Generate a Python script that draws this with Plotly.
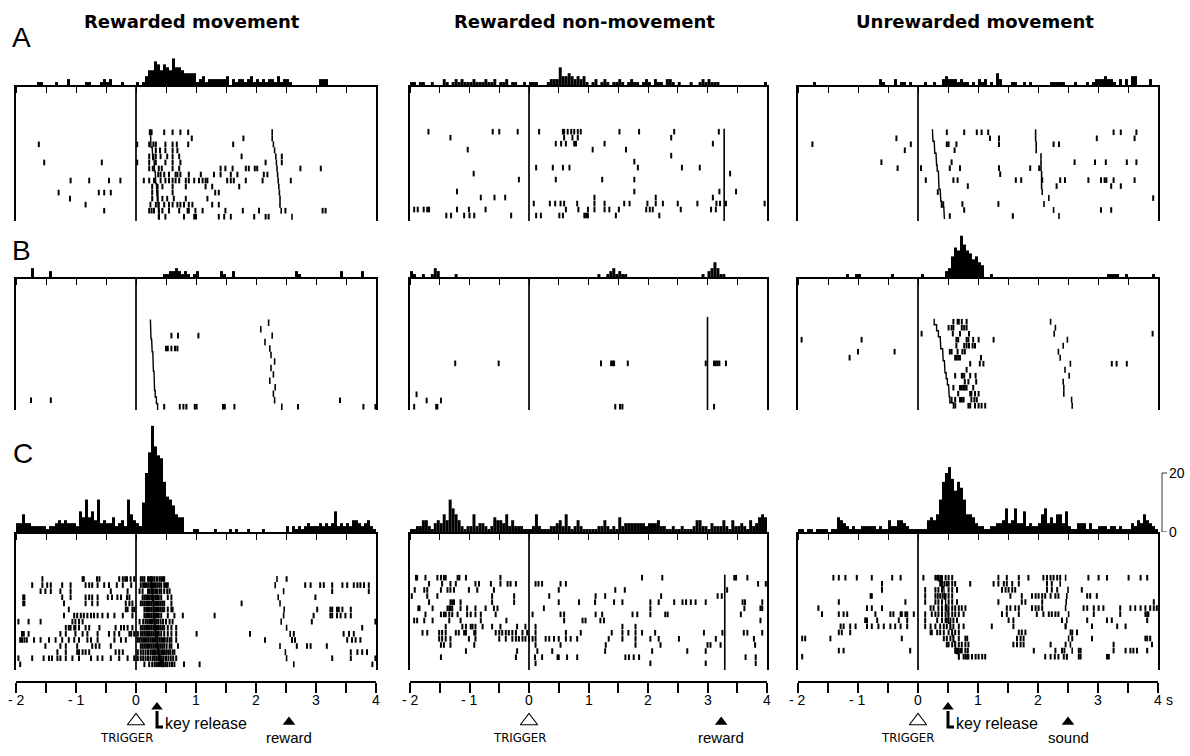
import plotly.graph_objects as go

# ---------------------------------------------------------------------------
# Time base (s, relative to the trigger) and histogram binning
# ---------------------------------------------------------------------------
T_START, T_END = -2.0, 4.0
BIN_WIDTH = 0.05
HALF_SECONDS = [-2.0, -1.5, -1.0, -0.5, 0.0, 0.5, 1.0, 1.5, 2.0, 2.5, 3.0, 3.5, 4.0]
TICK_TEXT = ["- 2", "", "- 1", "", "0", "", "1", "", "2", "", "3", "", "4"]

COLUMN_TITLES = ["Rewarded movement", "Rewarded non-movement", "Unrewarded movement"]
ROW_LETTERS = ["A", "B", "C"]

# events shown under the time axis of each column
EVENT_TRIGGER = 0.0
EVENT_RELEASE = [0.35, None, 0.50]
EVENT_OUTCOME = [2.55, 3.23, 2.50]
OUTCOME_LABELS = ["reward", "reward", "sound"]

# ---------------------------------------------------------------------------
# Peri-event histograms (impulses per 50-ms bin, 120 bins from -2 to 4 s)
# ---------------------------------------------------------------------------
hist_A_rew_mov = [0,0,0,0,0,0,0,1,1,0, 0,0,0,1,0,0,0,2,0,0,
                  0,0,0,1,1,0,0,0,1,2, 1,2,0,0,0,1,0,0,0,0,
                  1,0,1,3,5,5,8,7,5,7, 6,5,9,6,6,5,4,4,4,4,
                  1,2,3,1,2,2,2,2,2,2, 3,0,2,1,2,2,1,2,3,1,
                  2,1,2,1,2,2,1,3,1,2, 2,1,0,0,0,0,0,0,0,0,
                  0,2,2,2,0,0,0,0,0,0, 0,0,0,0,0,0,0,0,0,0]
hist_A_rew_nomov = [1,1,0,1,1,0,0,1,0,0, 0,2,1,0,1,2,1,2,1,1,
                    1,2,1,1,1,2,1,1,2,0, 1,1,2,0,1,1,0,0,1,0,
                    1,1,1,0,0,0,1,2,2,2, 6,3,3,4,3,2,3,2,3,1,
                    0,1,2,0,1,2,1,0,1,1, 2,1,0,1,2,1,1,0,1,2,
                    1,0,2,1,1,0,2,2,1,0, 1,0,0,0,1,0,0,1,2,1,
                    2,1,1,1,0,0,0,0,0,0, 0,0,0,0,0,0,0,0,0,1]
hist_A_unrew_mov = [0,0,0,0,0,1,0,0,0,0, 0,0,0,0,0,0,0,0,0,0,
                    0,0,0,0,0,0,0,2,1,0, 0,0,2,0,1,1,0,1,0,0,
                    0,0,1,0,0,1,0,0,2,3, 2,2,2,1,2,1,1,0,1,0,
                    2,1,2,0,1,0,4,2,0,0, 0,1,1,0,0,1,0,1,0,0,
                    0,0,0,0,1,1,1,1,1,0, 0,0,1,0,0,0,1,0,1,2,
                    2,2,3,2,2,1,0,2,0,2, 0,3,3,0,0,0,0,2,0,0]
hist_B_rew_mov = [0,0,0,0,0,3,0,0,0,0, 0,2,0,0,0,0,0,0,0,0,
                  0,0,0,0,0,0,0,0,0,0, 0,0,0,0,0,0,0,0,0,0,
                  0,0,0,0,0,0,0,0,0,1, 1,2,2,3,2,1,2,1,0,1,
                  2,0,0,0,0,0,0,0,2,1, 0,0,2,0,0,0,0,0,0,0,
                  0,0,0,0,0,0,0,0,0,0, 0,0,0,2,1,0,0,0,0,0,
                  0,0,0,0,0,0,0,0,2,0, 0,0,0,0,0,2,0,0,0,0]
hist_B_rew_nomov = [2,1,0,0,1,0,0,1,3,2, 0,0,0,0,0,1,0,0,0,0,
                    0,0,0,0,0,0,0,0,0,0, 0,0,0,0,0,0,0,0,0,0,
                    0,0,0,0,0,0,0,0,0,0, 0,0,0,0,0,0,0,0,0,0,
                    0,0,0,1,0,0,1,2,3,1, 2,1,1,0,0,0,0,0,0,0,
                    0,0,0,0,0,0,0,0,0,0, 0,0,0,0,0,0,0,0,1,0,
                    2,3,5,3,1,1,0,0,0,0, 0,0,0,0,0,0,0,0,0,0]
hist_B_unrew_mov = [0,0,0,0,0,0,0,0,0,0, 0,0,0,0,0,0,1,0,0,1,
                    1,0,0,0,0,0,0,0,0,0, 0,1,0,0,0,0,0,0,0,0,
                    0,1,0,0,0,0,0,0,0,2, 3,7,10,9,14,11,9,8,6,7,
                    5,4,0,0,1,0,0,0,0,0, 0,0,0,0,0,0,0,0,0,0,
                    0,0,0,0,0,0,0,0,0,0, 0,0,0,0,0,0,0,0,0,0,
                    0,0,0,1,1,1,1,0,0,1, 0,0,0,0,0,0,0,0,1,0]
hist_C_rew_mov = [3,3,6,3,3,2,2,2,2,2, 1,2,2,3,4,3,4,3,3,3,
                  2,7,5,11,5,7,4,11,3,4, 3,3,5,2,3,4,2,11,6,4,
                  3,2,10,20,27,36,29,26,25,17, 12,11,9,6,5,5,0,0,0,1,
                  1,0,0,0,0,0,1,0,0,0, 0,1,0,1,0,0,0,1,0,0,
                  0,0,1,0,0,0,0,0,0,0, 2,0,2,1,2,1,2,3,2,2,
                  2,3,2,3,2,3,7,2,3,2, 3,2,4,4,3,2,3,4,2,1]
hist_C_rew_nomov = [1,1,2,2,4,4,2,1,3,4, 3,6,4,11,8,6,4,2,1,2,
                    2,6,2,3,3,2,1,2,5,4, 4,3,6,2,4,2,2,2,1,1,
                    1,2,6,2,1,1,1,2,2,3, 4,2,6,2,1,2,4,2,1,1,
                    1,1,1,2,2,4,2,1,2,1, 5,2,3,3,3,3,3,3,3,2,
                    3,3,3,4,2,2,1,1,2,1, 1,2,1,1,1,2,4,4,2,2,
                    1,3,2,2,2,4,2,1,4,2, 2,3,2,1,4,2,3,5,6,5]
hist_C_unrew_mov = [1,1,0,1,1,0,1,1,1,1, 0,1,1,5,4,3,2,1,2,1,
                    1,2,2,2,2,2,1,2,1,1, 4,2,2,4,4,3,2,1,1,1,
                    1,1,1,4,5,4,6,11,17,20, 22,18,14,17,15,11,6,6,5,3,
                    2,2,1,1,2,2,3,3,4,8, 3,4,8,3,3,7,2,3,2,2,
                    3,6,8,3,5,3,6,6,3,7, 2,1,1,3,3,3,1,3,1,1,
                    2,2,2,1,2,2,1,2,1,1, 1,3,2,4,3,6,4,3,2,1]

# ---------------------------------------------------------------------------
# Rasters: spike times (s) per trial, first trial listed = top line
# ---------------------------------------------------------------------------
spikes_A_rew_mov = [
    [0.23, 0.26, 0.47, 0.61, 0.74, 0.87],
    [0.93, 1.79],
    [-1.62, 0.02, 0.22, 0.29, 0.33, 0.49, 0.61, 0.68, 0.87, 1.62],
    [0.33, 0.40, 0.49, 0.61, 0.69],
    [0.22, 0.29, 0.33, 0.41, 0.52, 0.61, 0.72, 1.76, 2.43],
    [-1.53, -0.57, 0.02, 0.22, 0.33, 0.49, 0.61, 0.74, 2.16, 2.43],
    [0.22, 0.28, 0.38, 0.43, 0.61, 0.72, 1.41, 1.49, 1.61, 1.83, 1.88, 1.98, 2.02, 2.74, 3.08],
    [0.37, 0.41, 0.47, 0.55, 0.66, 0.69, 0.74, 0.88, 1.08, 1.30, 1.41, 1.58, 1.69, 2.13, 2.19],
    [-1.09, -0.78, -0.45, -0.26, 0.13, 0.22, 0.30, 0.41, 0.49, 0.55, 0.61, 0.66, 0.72, 0.83, 0.88,
     0.97, 1.05, 1.11, 1.16, 1.19, 1.52, 1.58, 1.63, 1.83, 2.11, 2.58],
    [0.27, 0.36, 0.44, 0.61, 0.83, 1.16, 1.27, 1.72],
    [-1.29, -0.62, -0.53, -0.42, 0.27, 0.36, 0.61, 1.32, 1.38],
    [-1.10, 0.27, 0.36, 0.44, 0.52, 0.63, 0.83, 1.19],
    [-0.84, 0.24, 0.33, 0.38, 0.47, 0.55, 0.61, 0.69, 0.74, 0.80, 0.88, 0.94, 1.27, 1.38],
    [-0.53, 0.22, 0.26, 0.30, 0.38, 0.44, 0.55, 0.72, 0.86, 0.88, 0.99, 1.11, 1.49, 1.78, 2.05,
     2.49, 3.11, 3.16],
    [0.38, 0.49, 0.80, 0.97, 1.00, 1.38, 1.47, 1.58, 1.97, 2.16, 2.21],
]
release_A_rew_mov = [0.24, 0.245, 0.25, 0.27, 0.28, 0.30, 0.31, 0.32, 0.33, 0.34, 0.35, 0.36, 0.37, 0.38, 0.39]
reward_A_rew_mov = [2.27, 2.27, 2.29, 2.31, 2.33, 2.34, 2.35, 2.36, 2.37, 2.38, 2.39, 2.40, 2.40, 2.42, 2.60]

spikes_A_rew_nomov = [
    [-1.69, -0.61, -0.50, -0.19, 0.17, 0.57, 0.59, 0.65, 0.71, 0.76, 0.82, 0.87, 1.52, 1.85, 2.44, 3.19],
    [-1.32, 0.59, 0.73, 0.82, 2.39],
    [0.45, 0.54, 0.62, 0.76, 0.79, 1.27, 3.09],
    [-1.03, 1.07, 1.63],
    [2.39],
    [1.77],
    [0.12, 0.40, 0.57, 0.68, 1.83, 2.57, 2.87],
    [-0.93, 3.38],
    [-0.17, 0.45, 1.23, 1.77],
    [],
    [-1.21, 1.77, 3.20, 3.48],
    [-0.81, -0.58, -0.40, 1.10, 2.13, 3.09],
    [0.08, 0.35, 0.44, 0.53, 0.59, 0.81, 1.10, 1.27, 1.60, 1.69, 1.99, 2.13, 2.25, 2.50, 2.83, 3.15,
     3.21, 3.31, 3.96],
    [-1.93, -1.87, -1.77, -1.71, -1.68, -1.21, -1.01, -0.73, 0.62, 0.83, 0.99, 1.10, 1.27, 1.35, 1.51,
     1.97, 2.03, 2.08, 2.55, 3.06, 3.14],
    [-1.39, -1.31, -1.09, -1.00, -0.92, -0.30, 0.12, 0.20, 0.51, 0.57, 0.93, 0.96, 0.99, 1.46, 2.19],
]
reward_time_A_nomov = 3.28

spikes_A_unrew_mov = [
    [0.48, 0.77, 0.98, 1.06, 1.17, 3.26, 3.38, 3.64],
    [-0.36, 1.20, 1.35, 2.98, 3.61],
    [-1.76, -0.12, 0.48, 0.51, 0.64, 1.35, 2.26, 2.35],
    [-0.22, 0.61],
    [],
    [-0.61, 0.56, 2.61, 2.95, 3.13, 3.48, 3.64],
    [-0.34, 0.05, 0.53, 0.70, 1.35, 1.87, 2.02],
    [1.37],
    [0.13, 0.59, 0.66, 1.63, 1.72, 2.07, 2.37, 2.45, 2.84, 3.05, 3.11, 3.14, 3.26, 3.61],
    [0.83, 2.31, 3.22, 3.38],
    [0.33],
    [3.92],
    [0.42, 0.74, 1.34],
    [0.77, 3.05, 3.22],
    [0.53, 1.58],
]
release_A_unrew_mov = [0.24, 0.25, 0.27, 0.28, 0.30, 0.31, 0.32, 0.34, 0.35, 0.35, 0.37, 0.38, 0.39, 0.43, 0.44]
sound_A_unrew_mov = [1.96, 1.96, 1.97, 1.97, 2.05, 2.05, 2.05, 2.06, 2.06, 2.06, 2.07, 2.18, 2.10, 2.26, 2.35]

spikes_B_rew_mov = [
    [], [],
    [0.59, 0.70, 1.04],
    [],
    [0.50, 0.53, 0.59, 0.65, 0.69],
    [], [], [], [], [], [], [],
    [-1.75, -1.42, 3.40],
    [0.47, 0.73, 0.79, 0.84, 0.98, 1.01, 1.45, 1.48, 1.64, 2.70, 3.79, 3.99],
]
release_B_rew_mov = [0.24, 0.24, 0.25, 0.26, 0.27, 0.28, 0.29, 0.29, 0.30, 0.31, 0.31, 0.32, 0.34, 0.36]
reward_B_rew_mov = [2.21, 2.08, 2.27, 2.15, 2.23, 2.25, 2.31, 2.25, 2.29, 2.23, 2.32, 2.29, 2.31, 2.43]

spikes_B_rew_nomov = [
    [], [], [], [], [], [], [],
    [-1.24, -0.51, 1.21, 1.38, 1.41, 1.43, 1.66, 2.97, 3.11, 3.14, 3.17, 3.20, 3.31],
    [], [], [], [],
    [-1.89],
    [-1.72, -1.48],
    [-1.93, -1.56, -1.54, 1.45, 1.53, 1.57, 3.11],
]
reward_time_B_nomov = 3.00

spikes_B_unrew_mov = [
    [0.59, 0.66, 0.68, 0.73, 0.81],
    [0.51, 0.56, 0.59, 0.73, 0.77, 0.81],
    [0.06, 0.58, 0.70, 0.85, 3.91],
    [-1.94, -0.94, 0.64, 0.67, 0.81, 0.84, 0.92, 1.01, 1.26],
    [0.64, 0.77, 0.81, 0.85, 0.91, 0.95],
    [-1.00, -0.39, 0.53, 0.56, 0.66, 0.74, 0.78],
    [-1.14, 0.62, 0.64, 0.67, 0.70, 1.05],
    [0.87, 1.03, 1.09, 3.23, 3.31, 3.48],
    [0.81],
    [0.62, 0.73, 0.74, 0.77, 0.87, 0.96],
    [0.78, 0.84, 0.97],
    [0.59, 0.70, 0.73, 0.76, 0.78, 0.81, 0.92],
    [0.67, 0.87, 0.89, 0.95, 1.01],
    [0.56, 0.62, 0.70, 0.73, 0.76, 0.89, 0.94, 0.98],
    [0.62, 0.84, 0.87, 0.95, 1.01, 1.06, 1.12],
]
release_B_unrew_mov = [0.27, 0.31, 0.34, 0.37, 0.38, 0.41, 0.42, 0.44, 0.45, 0.47, 0.49, 0.51, 0.52, 0.53, 0.59]
sound_B_unrew_mov = [2.21, 2.29, 2.27, 2.49, 2.42, 2.34, 2.37, 2.54, 2.45, 2.52, 2.42, 2.43, 2.43, 2.56, 2.57]

spikes_C_rew_mov = [
    [-1.56, -0.89, -0.87, -0.65, -0.61, -0.28, -0.22, -0.18, -0.15, -0.09, -0.03, 0.08, 0.11, 0.14,
     0.20, 0.22, 0.25, 0.28, 0.31, 0.35, 0.39, 0.42, 0.45, 0.47, 2.51],
    [-1.73, -1.56, -1.48, -1.42, -1.23, -1.09, -0.84, -0.78, -0.73, -0.64, -0.53, -0.45, -0.32, -0.22,
     -0.08, 0.08, 0.12, 0.15, 0.18, 0.21, 0.24, 0.27, 0.30, 0.33, 0.36, 0.39, 0.42, 0.47, 0.50, 0.53,
     2.82, 2.91, 3.07, 3.13, 3.27, 3.44, 3.52, 3.63, 3.69, 3.74, 3.80, 3.88],
    [-1.59, -1.51, -1.42, -1.26, -1.09, -0.42, -0.14, 0.06, 0.11, 0.20, 0.23, 0.26, 0.29, 0.32, 0.35,
     0.39, 0.42, 0.47, 0.52, 0.56, 3.27, 3.88],
    [-1.88, -1.86, -1.23, -1.09, -0.84, -0.78, -0.73, -0.64, -0.47, -0.40, -0.31, -0.25, -0.15, -0.11,
     0.11, 0.14, 0.17, 0.20, 0.23, 0.26, 0.29, 0.32, 0.35, 0.38, 0.42, 0.53, 0.59, 2.99],
    [-1.88, -1.86, -1.20, -0.84, -0.73, -0.64, -0.17, -0.11, -0.06, 0.08, 0.11, 0.14, 0.17, 0.20, 0.23,
     0.26, 0.29, 0.32, 0.35, 0.38, 0.41, 0.44, 0.47, 0.59, 1.76],
    [-1.12, -0.17, -0.14, -0.06, -0.03, 0.14, 0.17, 0.20, 0.23, 0.26, 0.29, 0.32, 0.35, 0.38, 0.41,
     0.44, 0.47, 0.53, 0.59, 0.61, 3.02, 3.24, 3.27, 3.35, 3.38, 3.44, 3.58],
    [-1.20, -1.03, -0.98, -0.92, -0.87, -0.81, -0.75, -0.70, -0.64, -0.56, -0.47, -0.36, -0.22, -0.06,
     0.14, 0.17, 0.20, 0.23, 0.26, 0.29, 0.32, 0.35, 0.38, 0.42, 0.53, 0.64, 0.78, 1.31, 2.96, 3.24,
     3.27, 3.35, 3.41, 3.49, 3.58],
    [-1.96, -1.79, -1.59, -1.06, -1.01, -0.95, -0.89, 0.06, 0.12, 0.16, 0.19, 0.22, 0.25, 0.28, 0.31,
     0.34, 0.37, 0.41, 0.45, 0.50, 0.56, 0.61, 2.93, 3.99],
    [-1.17, -1.12, -1.09, -1.03, -1.01, -0.95, -0.84, -0.78, -0.61, -0.34, -0.25, -0.20, -0.14, -0.06,
     0.08, 0.11, 0.14, 0.17, 0.20, 0.23, 0.26, 0.29, 0.32, 0.35, 0.38, 0.41, 0.44, 0.47, 0.53, 0.59,
     0.67, 3.77],
    [-1.90, -1.87, -1.79, -1.26, -1.17, -1.01, -0.89, -0.81, -0.64, -0.45, -0.36, -0.28, -0.11, -0.08,
     -0.03, 0.03, 0.08, 0.11, 0.14, 0.17, 0.20, 0.23, 0.26, 0.29, 0.32, 0.35, 0.38, 0.42, 0.47, 0.53,
     0.59, 0.67, 1.01, 1.90, 2.63, 3.46, 3.55, 3.63],
    [-1.93, -1.90, -1.86, -1.82, -1.70, -1.59, -1.45, -1.34, -1.23, -1.12, -1.03, -0.95, -0.81, -0.75,
     -0.64, -0.36, -0.25, -0.17, 0.03, 0.06, 0.09, 0.12, 0.15, 0.18, 0.21, 0.24, 0.27, 0.30, 0.33,
     0.36, 0.39, 0.42, 0.45, 0.48, 0.52, 0.56, 0.59, 0.67, 2.15, 2.60, 2.65, 3.52, 3.60, 3.66, 3.74],
    [-1.51, -1.26, -1.17, -0.98, -0.73, -0.67, -0.61, -0.42, 0.08, 0.11, 0.14, 0.17, 0.20, 0.23, 0.26,
     0.29, 0.32, 0.35, 0.38, 0.41, 0.44, 0.47, 0.51, 0.56, 0.59, 0.70, 2.68, 2.85, 2.91, 3.18],
    [-1.31, -1.17, -0.98, -0.95, -0.89, -0.84, -0.78, -0.34, -0.28, -0.22, 0.03, 0.08, 0.12, 0.16,
     0.20, 0.24, 0.27, 0.30, 0.33, 0.36, 0.39, 0.42, 0.45, 0.48, 0.51, 0.54, 0.57, 0.61, 0.64, 3.58,
     3.69, 3.77, 3.85],
    [-1.96, -1.73, -1.54, -1.45, -1.40, -1.31, -1.26, -1.17, -1.06, -0.95, -0.75, -0.64, -0.56, -0.42,
     -0.28, -0.14, -0.03, 0.03, 0.08, 0.12, 0.16, 0.20, 0.24, 0.28, 0.31, 0.34, 0.37, 0.40, 0.43, 0.46,
     0.50, 0.54, 0.58, 0.62, 0.67, 3.27, 3.58, 3.99],
    [-1.93, 0.14, 0.22, 0.27, 0.31, 0.34, 0.37, 0.40, 0.43, 0.46, 0.49, 0.52, 0.56, 0.60, 0.64, 0.80,
     1.06, 3.94],
]
release_C_rew_mov = [0.25, 0.26, 0.27, 0.28, 0.29, 0.30, 0.30, 0.31, 0.32, 0.33, 0.35, 0.36, 0.38, 0.40, 0.45]
reward_C_rew_mov = [2.35, 2.32, 2.46, 2.37, 2.40, 2.47, 2.46, 2.42, 2.51, 2.57, 2.60, 2.40, 2.49, 2.51, 2.63]

spikes_C_rew_nomov = [
    [-1.90, -1.88, -1.74, -1.54, -1.48, -1.43, -1.40, -1.20, -1.17, -1.06, -0.48, 1.90, 2.24, 3.45,
     3.48, 3.67],
    [-1.68, -1.46, -1.32, -1.23, -0.90, -0.84, -0.64, -0.48, -0.36, -0.31, -0.22, 0.11, 0.16, 0.22,
     0.53, 0.62, 3.85, 3.98],
    [-1.92, -1.76, -1.71, -1.48, -1.37, -1.32, -1.26, -1.01, -0.87, -0.59, 0.50, 1.45, 1.61, 3.33],
    [-1.97, -1.71, -1.54, -0.62, -0.25, 0.34, 1.12, 1.28, 2.22, 3.17, 3.24],
    [-1.68, -1.32, -1.29, -1.26, -1.15, -0.62, -0.25, 0.50, 0.84, 1.11, 1.43, 1.57, 2.04, 2.18, 2.44,
     2.58, 2.64, 2.72, 2.80, 2.97, 3.59, 3.63, 3.92],
    [-1.86, -1.84, -1.62, -1.37, -1.34, -1.32, -1.29, -1.15, -1.04, -0.90, -0.73, -0.59, -0.53, 0.25,
     2.04, 3.62, 3.89, 3.92],
    [-1.74, -1.48, -1.43, -1.40, -1.34, -1.29, -1.20, -1.04, -0.98, -0.90, -0.81, -0.56, 0.06, 0.53,
     0.59, 1.12, 1.23, 1.74, 1.82, 2.04, 2.29, 2.33, 3.56],
    [-1.93, -1.88, -1.76, -1.62, -1.34, -1.15, -0.81, -0.38, 0.59, 0.90, 0.95, 1.20, 1.26, 3.89],
    [-1.40, -1.12, -1.06, -0.98, -0.95, -0.90, -0.78, -0.62, -0.48, -0.20, -0.06, 0.11, 1.57, 1.79],
    [-1.79, -1.71, -1.51, -1.46, -1.40, -1.23, -1.18, -1.09, -1.06, -0.92, -0.90, -0.56, -0.50, -0.45,
     -0.39, -0.34, -0.28, -0.22, -0.11, -0.03, 0.11, 0.62, 0.87, 1.39, 1.57, 1.67, 1.79, 1.90, 2.12,
     2.94, 3.25, 3.61, 3.67, 3.92],
    [-1.51, -1.46, -1.40, -1.32, -1.01, -0.90, -0.50, -0.39, -0.28, -0.22, -0.17, -0.11, -0.06, 0.00,
     0.06, 0.11, 0.28, 0.34, 0.42, 0.50, 0.62, 0.70, 0.81, 1.34, 1.57, 1.79, 2.04, 2.18, 2.52, 3.14,
     3.78],
    [-1.48, -1.43, -1.32, -0.92, 0.11, 0.53, 1.29, 1.79, 2.21, 3.00, 3.05, 3.22, 3.80],
    [-1.06, -0.20, 0.14, 0.39, 1.28, 2.07, 2.66, 2.97],
    [-1.48, -0.22, 0.10, 0.22, 0.48, 0.50, 0.64, 0.81, 1.62, 1.68, 1.76, 1.85, 3.64, 3.81],
    [0.11, 2.04, 2.97, 3.81],
]
reward_time_C_nomov = 3.29

spikes_C_unrew_mov = [
    [-1.41, -1.32, -1.21, -1.02, -0.77, -0.43, -0.29, 0.09, 0.29, 0.32, 0.37, 0.40, 0.46, 0.51, 0.57,
     1.34, 1.48, 1.68, 1.84, 2.09, 2.15, 2.21, 2.26, 2.32, 2.37, 2.84, 3.01, 3.15, 3.51, 3.71, 3.82],
    [-0.60, 0.37, 0.40, 0.44, 0.48, 0.51, 0.57, 0.62, 0.87, 1.26, 1.34, 1.43, 1.48, 1.57, 1.68, 2.15,
     2.23],
    [-0.60, 0.12, 0.29, 0.34, 0.40, 0.51, 0.57, 0.65, 1.40, 1.46, 1.51, 1.57, 1.62, 2.15, 2.23, 2.32,
     2.73],
    [-0.79, -0.77, 0.12, 0.29, 0.33, 0.37, 0.41, 0.46, 0.51, 0.57, 1.54, 1.73, 1.90, 1.96, 2.01, 2.07,
     2.12, 2.21, 2.29, 2.34, 2.82, 2.87, 2.98],
    [-1.32, -0.21, 0.12, 0.29, 0.34, 0.40, 0.51, 0.57, 0.65, 1.34, 1.73, 1.79, 2.07, 3.93],
    [-1.66, -0.85, -0.77, -0.60, 0.21, 0.26, 0.34, 0.40, 0.46, 0.51, 0.57, 0.62, 0.68, 0.73, 0.79,
     1.48, 1.54, 1.62, 1.68, 1.90, 1.96, 2.01, 2.07, 2.76, 2.82, 2.93, 3.01, 3.09, 3.37, 3.54, 3.62,
     3.71, 3.79, 3.87, 3.93, 3.98],
    [-1.60, -1.32, -1.24, -1.18, -0.71, -0.46, -0.41, -0.29, -0.27, -0.21, -0.18, -0.07, 0.12, 0.23,
     0.29, 0.34, 0.40, 0.46, 0.51, 0.57, 0.62, 0.68, 0.76, 1.40, 1.48, 1.68, 1.98, 2.09, 2.18, 2.23,
     2.29, 2.34, 2.93, 3.37, 3.79, 3.82, 3.84],
    [-0.88, -0.85, -0.68, -0.32, -0.18, 0.12, 0.32, 0.40, 0.46, 0.48, 0.54, 0.59, 0.65, 1.51, 1.59,
     2.40, 2.82, 3.15, 3.23, 3.82],
    [-1.29, -1.24, -1.13, -1.04, -0.85, -0.77, -0.66, -0.57, -0.46, -0.38, -0.29, -0.18, 0.12, 0.21,
     0.29, 0.37, 0.43, 0.48, 0.54, 0.59, 0.68, 0.76, 1.23, 1.59, 2.46, 2.90, 3.32, 3.46],
    [-1.32, -1.27, -1.13, 0.21, 0.23, 0.32, 0.37, 0.43, 0.51, 0.57, 0.62, 0.68, 1.68, 1.73, 1.79, 2.57,
     2.65],
    [-1.93, -1.88, -1.46, -0.27, 0.43, 0.48, 0.54, 0.59, 0.68, 0.79, 0.82, 1.65, 1.71, 1.76, 2.57,
     2.90, 3.79, 3.82, 3.87],
    [0.48, 0.51, 0.57, 0.62, 0.68, 0.73, 0.79, 0.84, 1.59, 1.65, 1.71, 1.76, 2.21, 2.46, 3.26, 3.90],
    [-1.32, -1.24, -0.13, 0.62, 0.65, 0.68, 0.71, 0.73, 0.79, 0.83, 1.93, 2.29, 2.40, 2.44, 2.68, 2.71,
     3.26, 3.46, 3.54, 3.59, 3.65, 3.82],
    [-1.93, 0.68, 0.76, 0.79, 0.82, 0.84, 0.90, 0.96, 1.01, 1.07, 1.12, 2.12, 2.21, 2.28, 2.34, 2.43,
     2.48, 2.68, 2.71, 3.15, 3.18],
]
release_C_unrew_mov = [0.34, 0.40, 0.43, 0.44, 0.46, 0.48, 0.50, 0.51, 0.54, 0.57, 0.59, 0.62, 0.63, 0.68]
sound_C_unrew_mov = [2.46, 2.37, 2.50, 2.48, 2.47, 2.46, 2.51, 2.48, 2.46, 2.54, 2.51, 2.54, 2.57, 2.48]

SCALE_COUNTS = 20  # calibration bar on the last histogram

# ---------------------------------------------------------------------------
# Page geometry (pixels of the 1190 x 756 page)
# ---------------------------------------------------------------------------
W, H = 1190, 756
COLS_PX = [(16, 376), (410, 767), (798, 1158)]
ROWS_PX = {"A": (40, 85, 221), "B": (232, 277, 410), "C": (420, 532, 670)}  # hist top, baseline, raster bottom
PX_PER_COUNT = 2.95
AXIS_Y_PX = 682
FONT = "Liberation Sans, Arial, Helvetica, sans-serif"


def fx(px):
    return px / W


def fy(py):
    return 1 - py / H


panels = [
    dict(row="A", col=0, hist=hist_A_rew_mov, spikes=spikes_A_rew_mov, release=release_A_rew_mov,
         outcome=reward_A_rew_mov, rows_px=(132.3, 216.7)),
    dict(row="A", col=1, hist=hist_A_rew_nomov, spikes=spikes_A_rew_nomov,
         fixed_outcome=reward_time_A_nomov, rows_px=(131.7, 215.5)),
    dict(row="A", col=2, hist=hist_A_unrew_mov, spikes=spikes_A_unrew_mov, release=release_A_unrew_mov,
         outcome=sound_A_unrew_mov, rows_px=(132.3, 216.0)),
    dict(row="B", col=0, hist=hist_B_rew_mov, spikes=spikes_B_rew_mov, release=release_B_rew_mov,
         outcome=reward_B_rew_mov, rows_px=(322.7, 406.7)),
    dict(row="B", col=1, hist=hist_B_rew_nomov, spikes=spikes_B_rew_nomov,
         fixed_outcome=reward_time_B_nomov, rows_px=(320.0, 406.7)),
    dict(row="B", col=2, hist=hist_B_unrew_mov, spikes=spikes_B_unrew_mov, release=release_B_unrew_mov,
         outcome=sound_B_unrew_mov, rows_px=(321.7, 405.7)),
    dict(row="C", col=0, hist=hist_C_rew_mov, spikes=spikes_C_rew_mov, release=release_C_rew_mov,
         outcome=reward_C_rew_mov, rows_px=(579.0, 664.3)),
    dict(row="C", col=1, hist=hist_C_rew_nomov, spikes=spikes_C_rew_nomov,
         fixed_outcome=reward_time_C_nomov, rows_px=(577.7, 663.3)),
    dict(row="C", col=2, hist=hist_C_unrew_mov, spikes=spikes_C_unrew_mov, release=release_C_unrew_mov,
         outcome=sound_C_unrew_mov, rows_px=(577.7, 656.7)),
]

n_bins = int(round((T_END - T_START) / BIN_WIDTH))
bin_centers = [T_START + BIN_WIDTH * (i + 0.5) for i in range(n_bins)]

fig = go.Figure()
lay = {}
shapes = []
annotations = []
axis_count = [0]


def next_axis():
    axis_count[0] += 1
    return "" if axis_count[0] == 1 else str(axis_count[0])


bottom_x = {}
hist_axes = {}
AX_COMMON = dict(showgrid=False, zeroline=False, fixedrange=True, automargin=False)

for p in panels:
    x0, x1 = COLS_PX[p["col"]]
    htop, base, rbot = ROWS_PX[p["row"]]

    # ---- histogram ----
    h = next_axis()
    lay["xaxis" + h] = dict(domain=[fx(x0), fx(x1)], anchor="y" + h, range=[T_START, T_END],
                            showline=True, linecolor="black", linewidth=1.7, ticks="outside",
                            ticklen=6, tickwidth=1.3, tickcolor="black", tickvals=HALF_SECONDS,
                            showticklabels=False, **AX_COMMON)
    lay["yaxis" + h] = dict(domain=[fy(base), fy(htop)], anchor="x" + h,
                            range=[0, (base - htop) / PX_PER_COUNT], visible=False, **AX_COMMON)
    fig.add_trace(go.Bar(x=bin_centers, y=p["hist"], width=BIN_WIDTH,
                         marker=dict(color="black", line=dict(width=0)),
                         xaxis="x" + h, yaxis="y" + h, hoverinfo="skip"))
    hist_axes[(p["row"], p["col"])] = h

    # ---- raster ----
    r = next_axis()
    n = len(p["spikes"])
    top_px, bot_px = p["rows_px"]
    step = (bot_px - top_px) / (n - 1)
    v_lo = 1 + (bot_px - rbot) / step
    v_hi = 1 + (bot_px - base) / step
    xa = dict(domain=[fx(x0), fx(x1)], range=[T_START, T_END], **AX_COMMON)
    if p["row"] == "C":
        xa.update(anchor="free", position=fy(AXIS_Y_PX), side="bottom", showline=True,
                  linecolor="black", linewidth=1.7, ticks="outside", ticklen=10, tickwidth=1.5,
                  tickcolor="black", tickvals=HALF_SECONDS, showticklabels=False)
        bottom_x[p["col"]] = r
    else:
        xa.update(anchor="y" + r, visible=False)
    lay["xaxis" + r] = xa
    lay["yaxis" + r] = dict(domain=[fy(rbot), fy(base)], anchor="x" + r, range=[v_lo, v_hi],
                            showline=True, mirror=True, linecolor="black", linewidth=1.6,
                            ticks="", showticklabels=False, **AX_COMMON)

    sx, sy = [], []
    for i, trial in enumerate(p["spikes"]):
        for t in trial:
            sx.append(t)
            sy.append(n - i)
    fig.add_trace(go.Scatter(x=sx, y=sy, mode="markers",
                             marker=dict(symbol="line-ns", size=4, color="black",
                                         line=dict(width=2, color="black")),
                             xaxis="x" + r, yaxis="y" + r, hoverinfo="skip"))

    if p.get("release"):
        lx, ly = [], []
        for i, t in enumerate(p["release"]):
            v = n - i
            lx += [t, t]
            ly += [v + 0.5, v - 0.5]
        fig.add_trace(go.Scatter(x=lx, y=ly, mode="lines", line=dict(color="black", width=1.4),
                                 xaxis="x" + r, yaxis="y" + r, hoverinfo="skip"))

    if p.get("outcome"):
        ox, oy = [], []
        for i, t in enumerate(p["outcome"]):
            v = n - i
            ox += [t, t, None]
            oy += [v + 0.5, v - 0.5, None]
        fig.add_trace(go.Scatter(x=ox, y=oy, mode="lines", line=dict(color="black", width=1.6),
                                 xaxis="x" + r, yaxis="y" + r, hoverinfo="skip"))

    if p.get("fixed_outcome") is not None:
        t = p["fixed_outcome"]
        fig.add_trace(go.Scatter(x=[t, t], y=[n + 0.5, v_lo], mode="lines",
                                 line=dict(color="black", width=1.6),
                                 xaxis="x" + r, yaxis="y" + r, hoverinfo="skip"))

    # trigger line
    shapes.append(dict(type="line", xref="x" + r, yref="y" + r + " domain" if r else "y domain",
                       x0=EVENT_TRIGGER, x1=EVENT_TRIGGER, y0=0, y1=1,
                       line=dict(color="black", width=1.7)))

# ---- time-axis labels and event legend under each column ----
for c in range(3):
    xr = bottom_x[c]
    xs = "x" + xr
    for val, txt in zip(HALF_SECONDS, TICK_TEXT):
        if txt:
            annotations.append(dict(text=txt, x=val, y=fy(700), xref=xs, yref="paper",
                                    showarrow=False, xanchor="center", yanchor="middle",
                                    font=dict(family=FONT, size=14, color="black")))
    b = next_axis()
    lay["yaxis" + b] = dict(domain=[0, fy(AXIS_Y_PX)], anchor=xs, range=[H, AXIS_Y_PX],
                            visible=False, **AX_COMMON)
    ys = "y" + b
    fig.add_trace(go.Scatter(x=[EVENT_TRIGGER], y=[721], mode="markers",
                             marker=dict(symbol="triangle-up-open", size=15, color="black",
                                         line=dict(width=1.1, color="black")),
                             xaxis=xs, yaxis=ys, hoverinfo="skip", cliponaxis=False))
    fig.add_trace(go.Scatter(x=[EVENT_OUTCOME[c]], y=[722], mode="markers",
                             marker=dict(symbol="triangle-up", size=11, color="black"),
                             xaxis=xs, yaxis=ys, hoverinfo="skip", cliponaxis=False))
    annotations.append(dict(text="TRIGGER", x=EVENT_TRIGGER, y=fy(737), xref=xs, yref="paper",
                            xshift=-10, showarrow=False, xanchor="center", yanchor="middle",
                            font=dict(family="DejaVu Sans Condensed, " + FONT, size=13,
                                      color="black")))
    annotations.append(dict(text=OUTCOME_LABELS[c], x=EVENT_OUTCOME[c], y=fy(737), xref=xs,
                            yref="paper", showarrow=False, xanchor="center", yanchor="middle",
                            font=dict(family=FONT, size=15, color="black")))
    rel = EVENT_RELEASE[c]
    if rel is not None:
        fig.add_trace(go.Scatter(x=[rel, rel, rel + 0.1], y=[711, 727, 727], mode="lines",
                                 line=dict(color="black", width=3),
                                 xaxis=xs, yaxis=ys, hoverinfo="skip", cliponaxis=False))
        fig.add_trace(go.Scatter(x=[rel], y=[707], mode="markers",
                                 marker=dict(symbol="triangle-up", size=10, color="black"),
                                 xaxis=xs, yaxis=ys, hoverinfo="skip", cliponaxis=False))
        annotations.append(dict(text="key release", x=rel, y=fy(723), xref=xs, yref="paper",
                                xshift=6, showarrow=False, xanchor="left", yanchor="middle",
                                font=dict(family=FONT, size=16, color="black")))

# seconds unit after the last tick label
annotations.append(dict(text="s", x=T_END, y=fy(700), xref="x" + bottom_x[2], yref="paper",
                        xshift=11, showarrow=False, xanchor="center", yanchor="middle",
                        font=dict(family=FONT, size=14, color="black")))

# ---- calibration bar on the last histogram (counts on its own y scale) ----
hc = "y" + hist_axes[("C", 2)]
bar_px, tick_px = 1162, 1167
shapes.append(dict(type="path", xref="paper", yref=hc,
                   path=f"M {fx(tick_px)},{SCALE_COUNTS} L {fx(bar_px)},{SCALE_COUNTS} "
                        f"L {fx(bar_px)},0 L {fx(tick_px)},0",
                   line=dict(color="#333333", width=1)))
for val in (SCALE_COUNTS, 0):
    annotations.append(dict(text=str(val), x=fx(tick_px), y=val, xref="paper", yref=hc,
                            xshift=0, showarrow=False, xanchor="left", yanchor="middle",
                            font=dict(family=FONT, size=14, color="black")))

# ---- column titles and row letters ----
title_centers = [192, 584, 975]
for c, title in enumerate(COLUMN_TITLES):
    annotations.append(dict(text="<b>" + title + "</b>", x=fx(title_centers[c]), y=fy(22),
                            xref="paper", yref="paper", showarrow=False, xanchor="center",
                            yanchor="middle",
                            font=dict(family="DejaVu Sans, " + FONT, size=18, color="black")))
letter_pos = [(21, 38), (21, 250), (23, 453)]
for letter, (lx, ly) in zip(ROW_LETTERS, letter_pos):
    annotations.append(dict(text=letter, x=fx(lx), y=fy(ly), xref="paper", yref="paper",
                            showarrow=False, xanchor="center", yanchor="middle",
                            font=dict(family=FONT, size=28, color="black")))

fig.update_layout(
    width=W, height=H,
    margin=dict(l=0, r=0, t=0, b=0),
    paper_bgcolor="white", plot_bgcolor="white",
    showlegend=False, hovermode=False,
    font=dict(family=FONT, color="black"),
    shapes=shapes, annotations=annotations,
    **lay,
)

fig.write_html("out.html")
